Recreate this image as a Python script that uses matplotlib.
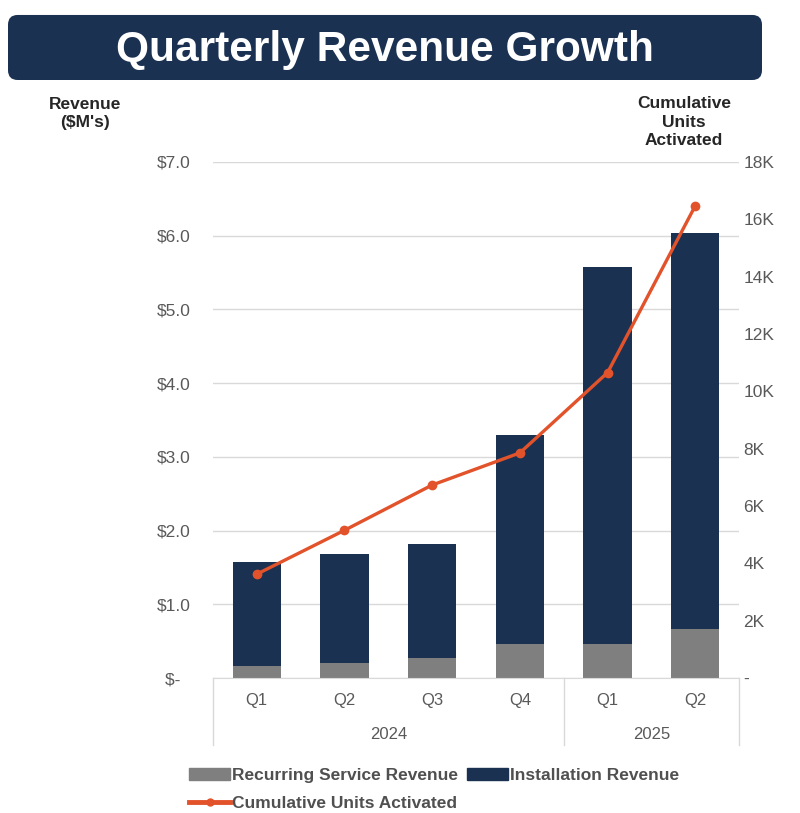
import matplotlib
matplotlib.use('Agg')
import matplotlib.pyplot as plt
from matplotlib.patches import FancyBboxPatch
from matplotlib.lines import Line2D

plt.rcParams['font.family'] = ['Liberation Sans', 'DejaVu Sans']

quarters = ['Q1', 'Q2', 'Q3', 'Q4', 'Q1', 'Q2']
years = ['2024', '2025']
recurringRevenue = [0.16, 0.21, 0.27, 0.46, 0.46, 0.67]
installationRevenue = [1.41, 1.47, 1.55, 2.84, 5.11, 5.37]
unitsActivated = [3620, 5150, 6730, 7850, 10650, 16470]

navy = '#1B3152'
gray = '#7F7F7F'
orange = '#E2532B'
gridColor = '#D9D9D9'
textColor = '#595959'

fig = plt.figure(figsize=(8, 8.13), dpi=100)
ax = fig.add_axes([0.266, 0.166, 0.658, 0.635])

x = list(range(len(quarters)))
ax.bar(x, recurringRevenue, width=0.55, color=gray, label='Recurring Service Revenue', zorder=2)
ax.bar(x, installationRevenue, width=0.55, bottom=recurringRevenue, color=navy,
       label='Installation Revenue', zorder=2)

ax.set_xlim(-0.5, len(quarters) - 0.5)
ax.set_ylim(0, 7)
ax.set_yticks([0, 1, 2, 3, 4, 5, 6, 7])
ax.set_yticklabels(['$-  ' if v == 0 else f'${v:.1f}' for v in range(8)])
ax.yaxis.grid(True, color=gridColor, linewidth=1)
ax.set_axisbelow(True)
for s in ['top', 'right', 'left']:
    ax.spines[s].set_visible(False)
ax.spines['bottom'].set_color(gridColor)
ax.tick_params(axis='y', length=0, labelsize=12.5, labelcolor=textColor, pad=16)
ax.set_xticks([])

# category labels with year grouping
trans = ax.get_xaxis_transform()
for i, q in enumerate(quarters):
    ax.text(i, -0.043, q, transform=trans, ha='center', va='center', fontsize=12, color=textColor)
ax.text(1.5, -0.11, years[0], transform=trans, ha='center', va='center', fontsize=12, color=textColor)
ax.text(4.5, -0.11, years[1], transform=trans, ha='center', va='center', fontsize=12, color=textColor)
for xv in [-0.5, 3.5, 5.5]:
    ax.plot([xv, xv], [0, -0.13], transform=trans, color=gridColor, linewidth=1, clip_on=False)

ax2 = ax.twinx()
ax2.plot(x, unitsActivated, color=orange, linewidth=2.4, marker='o', markersize=6,
         label='Cumulative Units Activated', zorder=3)
ax2.set_ylim(0, 18000)
ax2.set_yticks(range(0, 18001, 2000))
ax2.set_yticklabels(['-' if v == 0 else f'{v // 1000}K' for v in range(0, 18001, 2000)])
ax2.tick_params(axis='y', length=0, labelsize=12.5, labelcolor=textColor, pad=3)
for s in ax2.spines.values():
    s.set_visible(False)

# title banner
fig.patches.append(FancyBboxPatch((0.01, 0.9016), 0.9425, 0.08,
                                  boxstyle='round,pad=0,rounding_size=0.012',
                                  transform=fig.transFigure, facecolor=navy, edgecolor='none'))
fig.text(0.481, 0.939, 'Quarterly Revenue Growth', ha='center', va='center',
         fontsize=30.5, fontweight='bold', color='white')

fig.text(0.106, 0.881, "Revenue\n($M's)", ha='center', va='top', fontsize=12.5,
         fontweight='bold', color='#262626', linespacing=1.3)
fig.text(0.855, 0.882, 'Cumulative\nUnits\nActivated', ha='center', va='top', fontsize=12.5,
         fontweight='bold', color='#262626', linespacing=1.3)

handles = [
    plt.Rectangle((0, 0), 1, 1, color=gray),
    Line2D([0], [0], color=orange, linewidth=3.5, marker='o', markersize=5),
    plt.Rectangle((0, 0), 1, 1, color=navy),
]
labels = ['Recurring Service Revenue', 'Cumulative Units Activated', 'Installation Revenue']
leg = fig.legend(handles, labels, ncol=2, loc='upper left', bbox_to_anchor=(0.225, 0.066),
                 frameon=False, handlelength=2.4, handleheight=0.7,
                 handletextpad=0.1, columnspacing=0.5, labelspacing=0.75, borderpad=0,
                 prop={'weight': 'bold', 'size': 12.5})
for t in leg.get_texts():
    t.set_color('#505050')

fig.savefig('out.png', dpi=100)
